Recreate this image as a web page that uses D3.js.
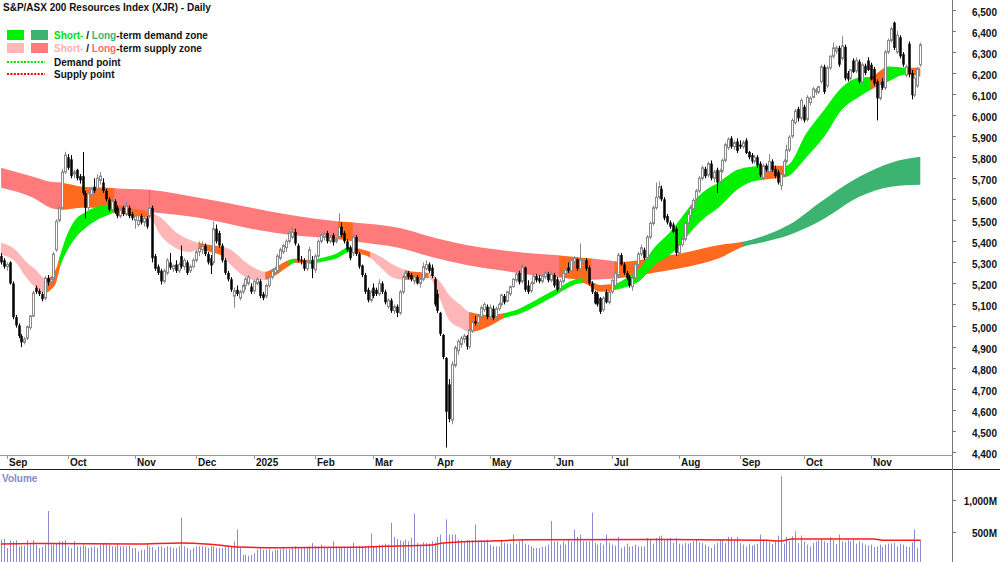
<!DOCTYPE html>
<html><head><meta charset="utf-8">
<script src="https://cdn.jsdelivr.net/npm/d3@7"></script>
<style>body{margin:0;background:#fff}svg{display:block;font-family:"Liberation Sans",Arial,sans-serif}</style>
</head><body><svg id="c" width="1000" height="562"></svg>
<script>
// ---------- DATA ----------
const title = "S&P/ASX 200 Resources Index (XJR) - Daily";
// daily candles [open, high, low, close], 29 Aug 2024 .. 25 Nov 2025
const candles = [
[5330,5345,5290,5300],[5310,5320,5270,5280],[5280,5300,5260,5290],[5300,5305,5195,5200],[5200,5210,5030,5040],
[5040,5050,4990,5000],[5000,5010,4940,4950],[4950,4960,4897,4920],[4920,4945,4910,4935],[4940,5000,4930,4995],
[4990,5050,4980,5045],[5045,5165,5040,5155],[5180,5190,5150,5160],[5165,5175,5140,5150],[5150,5160,5115,5125],
[5130,5235,5120,5225],[5225,5240,5190,5205],[5205,5230,5190,5220],[5225,5350,5215,5340],[5360,5505,5350,5495],
[5500,5570,5490,5560],[5560,5745,5550,5730],[5730,5826,5720,5810],[5800,5815,5740,5750],[5790,5810,5700,5710],
[5720,5740,5700,5730],[5740,5745,5690,5700],[5710,5720,5675,5690],[5710,5825,5620,5630],[5630,5640,5510,5560],
[5560,5640,5550,5630],[5620,5660,5600,5650],[5660,5700,5630,5640],[5650,5720,5640,5700],[5690,5730,5670,5710],
[5680,5700,5630,5640],[5640,5650,5590,5600],[5600,5610,5540,5550],[5550,5600,5540,5590],[5590,5600,5530,5540],
[5560,5570,5510,5520],[5520,5560,5510,5550],[5560,5570,5520,5530],[5530,5590,5520,5570],[5560,5570,5510,5520],
[5530,5540,5500,5510],[5500,5530,5460,5520],[5480,5520,5470,5500],[5520,5530,5480,5490],[5490,5520,5470,5510],
[5510,5520,5460,5470],[5520,5645,5510,5560],[5560,5570,5300,5320],[5330,5340,5260,5270],[5280,5290,5240,5250],
[5260,5270,5195,5210],[5210,5270,5200,5260],[5250,5320,5240,5310],[5300,5345,5265,5275],[5270,5290,5255,5285],
[5290,5310,5250,5260],[5260,5300,5250,5290],[5330,5380,5270,5280],[5280,5320,5265,5310],[5300,5310,5240,5250],
[5260,5290,5250,5280],[5280,5320,5270,5310],[5310,5360,5300,5350],[5350,5400,5330,5370],[5360,5400,5340,5380],
[5380,5390,5330,5340],[5340,5350,5290,5300],[5320,5335,5245,5285],[5300,5495,5290,5460],[5460,5480,5390,5400],
[5440,5450,5370,5380],[5380,5390,5300,5310],[5310,5320,5240,5250],[5250,5260,5210,5220],[5220,5230,5160,5170],
[5140,5180,5085,5165],[5170,5190,5140,5150],[5130,5170,5120,5160],[5160,5200,5150,5190],[5190,5230,5170,5220],
[5200,5240,5190,5230],[5185,5200,5150,5160],[5165,5220,5150,5210],[5200,5230,5190,5220],[5210,5220,5130,5140],
[5150,5160,5120,5130],[5140,5200,5130,5190],[5190,5240,5180,5230],[5230,5270,5220,5260],[5250,5280,5240,5270],
[5260,5340,5250,5330],[5320,5370,5310,5360],[5350,5390,5340,5380],[5370,5410,5350,5400],[5400,5450,5390,5440],
[5420,5465,5410,5445],[5445,5460,5380,5390],[5380,5390,5300,5310],[5310,5330,5290,5305],[5310,5320,5260,5270],
[5270,5310,5260,5300],[5305,5375,5295,5360],[5310,5330,5225,5270],[5265,5340,5250,5330],[5330,5410,5320,5400],
[5400,5440,5390,5430],[5420,5445,5405,5435],[5440,5450,5390,5400],[5400,5430,5390,5420],[5430,5440,5380,5395],
[5400,5420,5390,5410],[5420,5535,5410,5470],[5470,5490,5420,5430],[5440,5450,5390,5400],[5400,5410,5350,5360],
[5370,5380,5310,5320],[5345,5435,5330,5420],[5420,5430,5330,5340],[5340,5350,5270,5280],[5285,5290,5230,5240],
[5240,5250,5150,5160],[5170,5180,5110,5120],[5120,5170,5110,5160],[5180,5200,5130,5140],[5170,5180,5140,5150],
[5150,5220,5140,5200],[5200,5210,5150,5160],[5160,5170,5100,5110],[5090,5130,5080,5120],[5120,5130,5060,5070],
[5070,5100,5055,5090],[5090,5100,5040,5060],[5060,5170,5050,5160],[5160,5240,5150,5230],[5230,5260,5220,5250],
[5250,5260,5220,5230],[5240,5250,5210,5220],[5210,5240,5195,5230],[5230,5240,5195,5200],[5200,5230,5180,5220],
[5220,5300,5210,5280],[5270,5310,5260,5290],[5290,5300,5250,5260],[5275,5290,5225,5235],[5220,5230,5090,5100],
[5150,5170,5060,5070],[5060,5065,4950,4960],[4955,4960,4840,4850],[4845,4850,4420,4590],[4720,4745,4540,4555],
[4550,4830,4530,4815],[4810,4905,4800,4895],[4880,4935,4860,4925],[4910,4950,4895,4940],[4935,4960,4915,4950],
[4950,4955,4885,4900],[4900,4990,4890,4980],[4975,5025,4965,5015],[5020,5045,5000,5010],[5010,5055,5000,5045],
[5040,5095,5030,5085],[5075,5110,5065,5100],[5090,5100,5030,5040],[5040,5100,5025,5085],[5080,5095,5025,5035],
[5040,5090,5030,5080],[5080,5110,5070,5100],[5100,5150,5090,5145],[5140,5150,5100,5110],[5115,5165,5110,5160],
[5150,5190,5140,5185],[5185,5225,5180,5220],[5215,5255,5205,5245],[5250,5260,5195,5205],[5210,5290,5200,5280],
[5275,5280,5160,5170],[5190,5215,5150,5160],[5165,5210,5155,5200],[5200,5245,5195,5235],[5235,5245,5205,5215],
[5225,5240,5200,5210],[5210,5245,5200,5235],[5230,5260,5220,5250],[5245,5255,5205,5215],[5215,5255,5205,5245],
[5240,5250,5180,5190],[5220,5230,5160,5170],[5175,5220,5165,5210],[5210,5260,5200,5250],[5245,5275,5235,5265],
[5275,5300,5250,5260],[5260,5320,5255,5310],[5300,5330,5290,5320],[5315,5320,5260,5270],[5270,5390,5260,5310],
[5300,5320,5285,5310],[5310,5320,5260,5270],[5275,5285,5190,5200],[5200,5210,5150,5160],[5160,5165,5100,5105],
[5150,5160,5090,5100],[5130,5135,5055,5065],[5075,5140,5065,5130],[5160,5170,5105,5110],[5110,5165,5100,5160],
[5160,5220,5150,5215],[5190,5255,5180,5250],[5240,5345,5230,5335],[5335,5345,5285,5290],[5290,5300,5240,5250],
[5250,5260,5215,5225],[5230,5240,5180,5190],[5185,5235,5165,5225],[5225,5300,5215,5290],[5290,5350,5280,5340],
[5340,5385,5330,5370],[5360,5370,5310,5320],[5320,5430,5310,5420],[5420,5495,5410,5485],[5485,5570,5475,5560],
[5560,5680,5550,5610],[5610,5685,5600,5660],[5650,5665,5590,5600],[5600,5610,5500,5510],[5520,5530,5480,5490],
[5490,5500,5460,5470],[5480,5490,5440,5445],[5460,5470,5330,5345],[5345,5390,5335,5385],[5385,5420,5375,5410],
[5410,5495,5400,5485],[5485,5540,5475,5530],[5520,5570,5510,5560],[5555,5605,5545,5595],[5600,5650,5590,5640],
[5640,5710,5630,5700],[5700,5760,5690,5750],[5745,5755,5700,5710],[5715,5780,5705,5770],[5770,5785,5690,5700],
[5700,5740,5680,5730],[5740,5750,5630,5680],[5680,5745,5670,5735],[5735,5795,5725,5785],[5785,5870,5775,5860],
[5845,5895,5835,5885],[5890,5900,5840,5850],[5850,5880,5835,5870],[5875,5890,5820,5830],[5860,5880,5840,5850],
[5850,5880,5840,5870],[5880,5890,5815,5820],[5825,5830,5790,5800],[5810,5820,5770,5780],[5780,5810,5770,5800],
[5800,5810,5750,5760],[5770,5780,5705,5715],[5700,5770,5690,5760],[5760,5770,5730,5740],[5730,5815,5720,5780],
[5780,5790,5730,5740],[5745,5760,5700,5710],[5730,5740,5670,5680],[5665,5730,5645,5720],[5715,5790,5705,5780],
[5780,5860,5770,5835],[5835,5905,5825,5895],[5900,5985,5890,5975],[5965,6030,5955,6020],[6030,6040,5970,5985],
[5985,6080,5975,6070],[6040,6050,5965,5975],[5980,6095,5970,6085],[6060,6090,6045,6080],[6085,6135,6080,6125],
[6110,6130,6095,6120],[6110,6140,6100,6135],[6160,6240,6150,6230],[6230,6240,6100,6110],[6140,6235,6130,6225],
[6225,6285,6215,6280],[6280,6345,6270,6320],[6305,6330,6290,6320],[6320,6330,6230,6240],[6270,6375,6260,6330],
[6325,6335,6165,6175],[6200,6210,6160,6170],[6175,6220,6165,6215],[6260,6270,6200,6205],[6210,6275,6200,6260],
[6255,6265,6150,6160],[6160,6250,6150,6240],[6235,6245,6190,6200],[6260,6275,6210,6215],[6240,6250,6165,6170],
[6220,6230,6140,6150],[6160,6170,5975,6080],[6080,6160,6070,6150],[6160,6175,6120,6130],[6130,6310,6120,6300],
[6300,6365,6290,6355],[6355,6420,6345,6410],[6440,6445,6310,6320],[6300,6400,6290,6380],[6370,6380,6270,6280],
[6290,6300,6230,6240],[6190,6240,6180,6230],[6340,6350,6180,6195],[6200,6215,6075,6095],[6095,6185,6085,6175],
[6140,6230,6130,6220],[6240,6345,6230,6335]
];
// daily volume, millions
const volumes = [
374,384,242,363,347,363,268,279,279,363,295,363,295,242,258,295,820,295,295,321,
347,347,363,268,242,347,268,268,295,268,242,258,268,242,295,321,321,295,268,268,
295,268,268,268,279,242,242,190,216,216,321,268,258,216,268,268,242,268,258,242,
242,268,715,268,242,216,242,268,268,268,258,242,268,268,242,242,242,258,268,268,
347,531,242,137,137,121,137,163,216,242,216,216,226,190,216,216,226,242,226,226,
242,268,258,258,242,242,268,321,268,268,295,268,258,242,347,268,258,258,242,258,
268,321,268,279,268,268,279,468,268,268,295,295,311,295,636,416,384,363,347,374,
347,400,778,321,295,332,321,311,347,332,416,453,321,689,453,453,453,374,363,347,
363,363,363,610,363,363,363,374,295,268,268,268,374,321,311,311,453,311,347,384,
311,295,268,242,242,242,258,268,295,663,347,347,295,347,295,384,347,531,416,453,
347,347,347,794,321,295,321,295,453,321,295,279,416,242,268,311,268,268,295,268,
268,268,400,363,311,400,426,437,363,384,400,321,400,311,295,321,311,321,347,374,
332,321,295,268,242,295,321,374,374,321,416,416,374,416,321,295,268,311,279,295,
311,453,374,347,332,305,347,437,1362,311,416,347,426,505,321,437,347,295,268,321,
347,363,384,347,321,416,363,305,453,347,332,363,347,374,311,347,321,295,279,295,
258,268,295,258,295,311,311,321,268,311,295,268,258,332,531,242,374
];
// volume moving average [day index, millions]
const volumeAverage = [[0,305],[14,311],[46,305],[62,321],[73,295],[82,258],[95,247],[120,253],[132,268],
[148,290],[152,321],[171,355],[180,370],[230,374],[263,363],[268,350],[272,384],[300,384],[303,365],[316,363]];
// short-term zone [day index, upper, lower, state]  S=supply D=demand N=neutral
const shortZone = [
[0,5393,5336,'S'],[5,5359,5302,'S'],[8,5312,5240,'S'],[12,5264,5179,'S'],[15,5226,5155,'N'],[17,5231,5169,'N'],
[19,5274,5207,'N'],[20,5321,5264,'D'],[22,5407,5336,'D'],[25,5493,5407,'D'],[29,5540,5464,'D'],[32,5560,5493,'D'],
[37,5574,5526,'D'],[39,5574,5536,'N'],[43,5560,5526,'N'],[48,5550,5517,'N'],[51,5540,5512,'S'],[55,5512,5426,'S'],
[60,5445,5369,'S'],[65,5407,5350,'S'],[68,5393,5360,'N'],[72,5383,5350,'N'],[76,5374,5331,'S'],[79,5360,5288,'S'],
[84,5302,5231,'S'],[87,5274,5217,'S'],[91,5255,5217,'N'],[94,5274,5236,'N'],[99,5312,5283,'D'],[101,5317,5298,'N'],
[106,5312,5293,'D'],[110,5321,5302,'D'],[115,5340,5317,'D'],[120,5374,5350,'N'],[122,5369,5345,'N'],[127,5350,5321,'S'],
[130,5331,5283,'S'],[135,5288,5226,'S'],[139,5264,5217,'N'],[142,5255,5217,'N'],[147,5250,5226,'S'],[151,5207,5121,'S'],
[154,5145,5026,'S'],[158,5098,4988,'S'],[161,5064,4969,'N'],[168,5050,4998,'N'],[173,5059,5036,'D'],[177,5074,5050,'D'],
[182,5107,5079,'D'],[189,5160,5131,'D'],[200,5226,5202,'N'],[206,5193,5160,'N'],[211,5198,5169,'D'],[214,5217,5179,'D'],
[220,5279,5217,'D'],[224,5360,5279,'D'],[230,5445,5336,'D'],[241,5631,5502,'D'],[247,5683,5564,'D'],[253,5740,5645,'D'],
[258,5755,5683,'D'],[262,5760,5693,'N'],[270,5760,5707,'D'],[277,5917,5802,'D'],[283,6026,5898,'D'],[289,6131,6026,'D'],
[295,6179,6088,'D'],[299,6183,6121,'N'],[305,6231,6160,'D'],[311,6226,6193,'N'],[316,6226,6183,'N']
];
// long-term zone [day index, upper, lower, state]
const longZone = [
[0,5750,5655,'S'],[11,5707,5607,'S'],[17,5683,5560,'S'],[21,5679,5550,'N'],[28,5660,5560,'N'],[37,5655,5560,'N'],
[39,5653,5555,'S'],[51,5645,5540,'S'],[68,5607,5512,'S'],[86,5560,5460,'S'],[99,5526,5431,'S'],[116,5495,5410,'N'],
[118,5493,5407,'N'],[121,5490,5400,'S'],[137,5464,5369,'S'],[148,5421,5326,'S'],[160,5383,5288,'S'],[171,5360,5264,'S'],
[189,5336,5231,'S'],[192,5333,5228,'N'],[201,5321,5217,'N'],[203,5318,5218,'S'],[211,5305,5224,'N'],[213,5302,5226,'N'],
[224,5321,5250,'N'],[236,5350,5279,'N'],[247,5383,5321,'N'],[255,5398,5374,'D'],[261,5421,5393,'D'],[271,5480,5430,'D'],
[282,5590,5500,'D'],[295,5707,5612,'D'],[306,5774,5660,'D'],[316,5802,5669,'D']
];
const priceTicks = [4400,4500,4600,4700,4800,4900,5000,5100,5200,5300,5400,5500,5600,5700,5800,5900,6000,6100,6200,6300,6400,6500];
const volumeTicks = [500, 1000];
const monthTicks = [["Sep",2],["Oct",23],["Nov",46],["Dec",67],["2025",87],["Feb",108],["Mar",128],["Apr",149],
["May",168],["Jun",190],["Jul",210],["Aug",233],["Sep",254],["Oct",276],["Nov",299]];

// ---------- CHART ----------
const svg = d3.select("#c");
const defs = svg.append("defs");
const W = 1000, axisX = 952;
const x = d3.scaleLinear().domain([0, candles.length - 1]).range([1.1, 920.3]);
const yP = d3.scaleLinear().domain([4400, 6500]).range([451.7, 10]);
const yV = d3.scaleLinear().domain([0, 1000]).range([563.5, 499.5]);

defs.append("clipPath").attr("id","plot").append("rect").attr("x",0).attr("y",0).attr("width",axisX).attr("height",455);
const plot = svg.append("g").attr("clip-path","url(#plot)");

const shortColors = {S:"#ffb6b6", N:"#ff6a1e", D:"#00f000"};
const longColors = {S:"#ff7b7b", N:"#ff6a1e", D:"#3cb371"};
function drawZone(samples, colors, key){
  const area = d3.area().x(d=>x(d[0])).y0(d=>yP(d[2])).y1(d=>yP(d[1])).curve(d3.curveMonotoneX);
  const dStr = area(samples);
  // merge consecutive equal states
  const runs = [];
  samples.forEach((s,k)=>{
    if(k===samples.length-1) return;
    const last = runs[runs.length-1];
    if(last && last.state===s[3]) last.end = samples[k+1][0];
    else runs.push({state:s[3], start:s[0], end:samples[k+1][0]});
  });
  runs.forEach((r,k)=>{
    const id = key + k;
    const x0 = x(r.start) - (k===0?5:0.4), x1 = x(r.end) + (k===runs.length-1?5:0.4);
    defs.append("clipPath").attr("id",id).append("rect").attr("x",x0).attr("y",0).attr("width",x1-x0).attr("height",460);
    plot.append("g").attr("clip-path",`url(#${id})`).append("path").attr("d",dStr).attr("fill",colors[r.state]);
  });
}
drawZone(longZone, longColors, "lz");
drawZone(shortZone, shortColors, "sz");

// candles
const cg = plot.append("g");
candles.forEach((c,i)=>{
  const [o,h,l,cl] = c;
  const cx = Math.round(x(i)) + 0.5;
  const up = cl >= o;
  cg.append("line").attr("x1",cx).attr("x2",cx).attr("y1",yP(h)).attr("y2",yP(l))
    .attr("stroke", up ? "#8a8a8a" : "#000").attr("stroke-width",1);
  const top = yP(Math.max(o,cl)), bot = yP(Math.min(o,cl));
  const hgt = Math.max(1, bot-top);
  if(up){
    cg.append("rect").attr("x",cx-1).attr("y",top).attr("width",2).attr("height",hgt)
      .attr("fill","#fff").attr("stroke","#8a8a8a").attr("stroke-width",1);
  } else {
    cg.append("rect").attr("x",cx-1.25).attr("y",top).attr("width",2.5).attr("height",hgt).attr("fill","#000");
  }
});

// axes lines
svg.append("line").attr("x1",0).attr("x2",axisX).attr("y1",455.5).attr("y2",455.5).attr("stroke","#999");
svg.append("line").attr("x1",0).attr("x2",W).attr("y1",469.5).attr("y2",469.5).attr("stroke","#222");
svg.append("line").attr("x1",axisX+0.5).attr("x2",axisX+0.5).attr("y1",0).attr("y2",562).attr("stroke","#777");

// price axis
priceTicks.forEach(p=>{
  const yy = Math.round(yP(p)) + 0.5;
  svg.append("line").attr("x1",axisX).attr("x2",axisX+4).attr("y1",yy).attr("y2",yy).attr("stroke","#777");
  svg.append("text").attr("x",997).attr("y",yy+2).attr("dy","0.35em").attr("text-anchor","end")
    .attr("font-size",10).attr("font-weight","bold").attr("fill","#111").text(d3.format(",")(p));
});
// month axis
monthTicks.forEach(([lab,i])=>{
  const xx = Math.round(x(i)) + 0.5;
  svg.append("line").attr("x1",xx).attr("x2",xx).attr("y1",455).attr("y2",459).attr("stroke","#999");
  svg.append("text").attr("x",xx+1.5).attr("y",466).attr("font-size",10).attr("font-weight","bold").attr("fill","#111").text(lab);
});

// volume panel
svg.append("text").attr("x",2).attr("y",482).attr("font-size",10).attr("font-weight","bold").attr("fill","#8888cc").text("Volume");
const vg = svg.append("g");
volumes.forEach((v,i)=>{
  const cx = Math.round(x(i)) + 0.5;
  vg.append("line").attr("x1",cx).attr("x2",cx).attr("y1",yV(v)).attr("y2",563).attr("stroke","#8c8cd2").attr("stroke-width",1);
});
svg.append("path").datum(volumeAverage)
  .attr("d", d3.line().x(d=>x(d[0])).y(d=>yV(d[1])).curve(d3.curveMonotoneX))
  .attr("fill","none").attr("stroke","#ff1a1a").attr("stroke-width",1.5);
volumeTicks.forEach(v=>{
  const yy = Math.round(yV(v)) + 0.5;
  svg.append("line").attr("x1",axisX).attr("x2",axisX+4).attr("y1",yy).attr("y2",yy).attr("stroke","#777");
  svg.append("text").attr("x",997).attr("y",yy+1).attr("dy","0.35em").attr("text-anchor","end")
    .attr("font-size",10).attr("font-weight","bold").attr("fill","#111").text(d3.format(",")(v)+"M");
});

// legend
const lg = svg.append("g").attr("font-size",10).attr("font-weight","bold");
lg.append("text").attr("x",3).attr("y",11).attr("fill","#111").text(title);
lg.append("rect").attr("x",7).attr("y",30).attr("width",17).attr("height",10).attr("fill",shortColors.D);
lg.append("rect").attr("x",31).attr("y",30).attr("width",17).attr("height",10).attr("fill",longColors.D);
lg.append("rect").attr("x",7).attr("y",43).attr("width",17).attr("height",10).attr("fill",shortColors.S);
lg.append("rect").attr("x",31).attr("y",43).attr("width",17).attr("height",10).attr("fill",longColors.S);
const t1 = lg.append("text").attr("x",54).attr("y",39).attr("fill","#111");
t1.append("tspan").attr("fill","#00e000").text("Short-");
t1.append("tspan").text(" / ");
t1.append("tspan").attr("fill","#3cb371").text("Long");
t1.append("tspan").text("-term demand zone");
const t2 = lg.append("text").attr("x",54).attr("y",52).attr("fill","#111");
t2.append("tspan").attr("fill","#ffb0b0").text("Short-");
t2.append("tspan").text(" / ");
t2.append("tspan").attr("fill","#ff6b6b").text("Long");
t2.append("tspan").text("-term supply zone");
lg.append("line").attr("x1",7).attr("x2",45).attr("y1",62).attr("y2",62).attr("stroke","#00e000").attr("stroke-width",2).attr("stroke-dasharray","2,1.4");
lg.append("line").attr("x1",7).attr("x2",45).attr("y1",74).attr("y2",74).attr("stroke","#ff0000").attr("stroke-width",2).attr("stroke-dasharray","2,1.4");
lg.append("text").attr("x",54).attr("y",65.5).attr("fill","#111").text("Demand point");
lg.append("text").attr("x",54).attr("y",78).attr("fill","#111").text("Supply point");
</script></body></html>
